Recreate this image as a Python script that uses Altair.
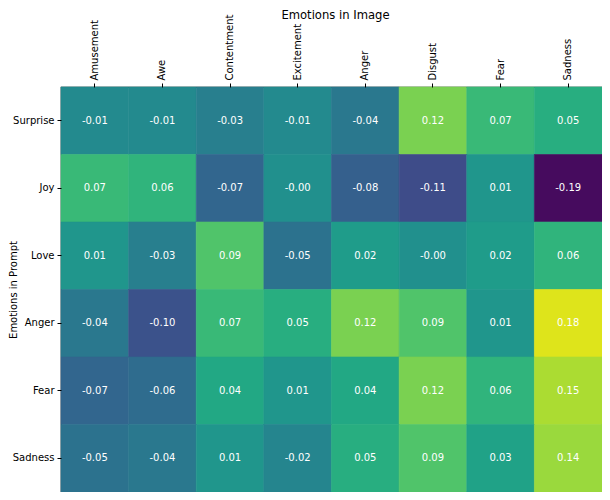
import altair as alt
import pandas as pd

image_emotions = ["Amusement", "Awe", "Contentment", "Excitement", "Anger", "Disgust", "Fear", "Sadness"]
prompt_emotions = ["Surprise", "Joy", "Love", "Anger", "Fear", "Sadness"]

values = [
    [-0.01, -0.01, -0.03, -0.01, -0.04, 0.12, 0.07, 0.05],
    [0.07, 0.06, -0.07, -0.001, -0.08, -0.11, 0.01, -0.19],
    [0.01, -0.03, 0.09, -0.05, 0.02, -0.001, 0.02, 0.06],
    [-0.04, -0.10, 0.07, 0.05, 0.12, 0.09, 0.01, 0.18],
    [-0.07, -0.06, 0.04, 0.01, 0.04, 0.12, 0.06, 0.15],
    [-0.05, -0.04, 0.01, -0.02, 0.05, 0.09, 0.03, 0.14],
]

rows = []
for i, p in enumerate(prompt_emotions):
    for j, im in enumerate(image_emotions):
        v = values[i][j]
        rows.append({"prompt": p, "image": im, "value": v, "label": f"{v:.2f}"})
df = pd.DataFrame(rows)

FONT = "DejaVu Sans"
W, H = 541, 405

x_enc = alt.X(
    "image:N",
    sort=image_emotions,
    scale=alt.Scale(paddingInner=0, paddingOuter=0),
    axis=alt.Axis(
        orient="top",
        title="Emotions in Image",
        labelAngle=-90,
        labelAlign="left",
        labelBaseline="middle",
        labelPadding=3,
        tickSize=4,
        tickColor="black",
        domain=False,
        labelFontSize=10,
        labelColor="black",
        titleFontSize=11.6,
        titleFontWeight="normal",
        titleColor="black",
        titleY=-69,
        titleX=274,
        titleBaseline="alphabetic",
        titleAlign="center",
    ),
)
y_enc = alt.Y(
    "prompt:N",
    sort=prompt_emotions,
    scale=alt.Scale(paddingInner=0, paddingOuter=0),
    axis=alt.Axis(
        title="Emotions in Prompt",
        labelPadding=3,
        tickSize=4,
        tickColor="black",
        domain=False,
        labelFontSize=10,
        labelColor="black",
        titleFontSize=10,
        titleFontWeight="normal",
        titleColor="black",
        titleAngle=270,
        titleX=-53,
        titleY=H / 2,
        titleBaseline="top",
        titleAlign="center",
    ),
)

base = alt.Chart(df).encode(x=x_enc, y=y_enc)

cscale = alt.Scale(scheme="viridis", domain=[-0.2, 0.2])
rects = base.mark_rect(strokeWidth=0.6).encode(
    color=alt.Color("value:Q", scale=cscale, legend=None),
    stroke=alt.Stroke("value:Q", scale=cscale, legend=None),
)
texts = base.mark_text(color="white", fontSize=10, font=FONT).encode(text="label:N")

chart = (
    alt.layer(rects, texts)
    .resolve_scale(color="shared")
    .properties(
        width=W,
        height=H,
        autosize=alt.AutoSizeParams(type="none"),
        padding={"left": 53, "top": 79, "right": 0, "bottom": 0},
    )
    .configure(font=FONT)
    .configure_view(stroke="black", strokeWidth=1.2)
    .configure_axis(grid=False)
)

chart.save("out.html", embed_options={"renderer": "svg", "actions": False})
